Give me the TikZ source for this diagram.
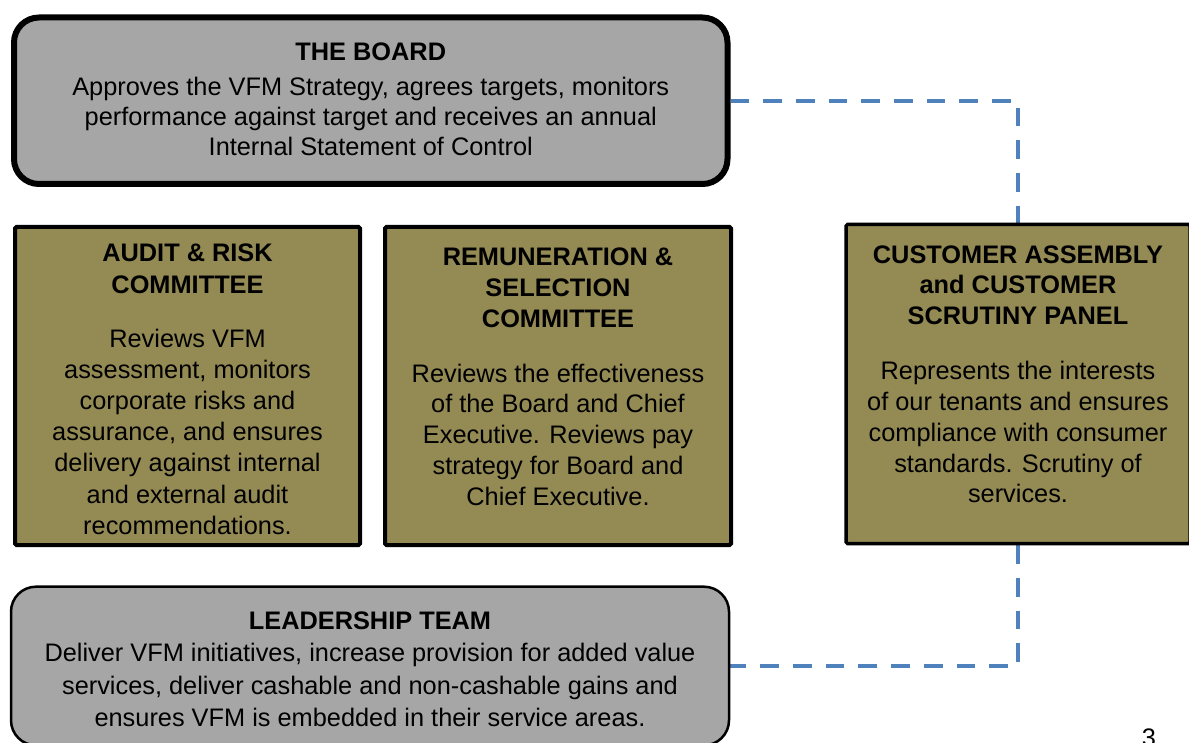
\documentclass[tikz,border=0pt]{standalone}
\usepackage{fontspec}
\setmainfont{Liberation Sans}
\usetikzlibrary{backgrounds}
\definecolor{panelgray}{RGB}{166,166,166}
\definecolor{olivefill}{RGB}{148,138,84}
\definecolor{linkblue}{RGB}{79,129,189}

\begin{document}
\begin{tikzpicture}[x=1pt,y=-1pt,
  panel/.style={draw=black, fill=panelgray, rounded corners=25pt, inner sep=0pt},
  committee/.style={draw=black, fill=olivefill, rounded corners=1.5pt, inner sep=0pt},
  label/.style={anchor=north, align=center, inner sep=0pt},
  link/.style={draw=linkblue, line width=4pt, dash pattern=on 18.7pt off 14pt}]
\useasboundingbox (0,0) rectangle (1189,743);
\clip (0,0) rectangle (1189,743);

% boxes
\node[panel, line width=6pt, minimum width=713.5pt, minimum height=166.5pt] (board) at (370.75,100.75) {};
\node[committee, line width=4pt, minimum width=345pt, minimum height=318pt] (audit) at (187.5,386) {};
\node[committee, line width=4pt, minimum width=346pt, minimum height=318pt] (remun) at (558,386) {};
\node[committee, line width=3.5pt, minimum width=344pt, minimum height=319pt] (customer) at (1018,384) {};
\node[panel, line width=2.5pt, minimum width=718pt, minimum height=158.6pt] (leaders) at (370,666) {};

% dashed links, kept behind the boxes
\begin{scope}[on background layer]
  \draw[link] (board.east) -| (customer.north);
  \draw[link] (customer.south) |- (leaders.east);
\end{scope}

% box texts
\node[label, font=\fontsize{25.35}{30}\selectfont] (boardtxt) at ([yshift=-28pt]board.north)
  {\textbf{THE BOARD}\\[5.6pt]
   Approves the VFM Strategy, agrees targets, monitors\\
   performance against target and receives an annual\\
   Internal Statement of Control};

\node[label, font=\fontsize{25.35}{31.2}\selectfont] (audittxt) at ([yshift=-19pt]audit.north)
  {\textbf{AUDIT \& RISK}\\
   \textbf{COMMITTEE}\\[22.8pt]
   Reviews VFM\\
   assessment, monitors\\
   corporate risks and\\
   assurance, and ensures\\
   delivery against internal\\
   and external audit\\
   recommendations.};

\node[label, font=\fontsize{25.35}{30.8}\selectfont] (remuntxt) at ([yshift=-22.5pt]remun.north)
  {\textbf{REMUNERATION \&}\\
   \textbf{SELECTION}\\
   \textbf{COMMITTEE}\\[24.2pt]
   Reviews the effectiveness\\
   of the Board and Chief\\
   Executive. Reviews pay\\
   strategy for Board and\\
   Chief Executive.};

\node[label, font=\fontsize{25.35}{30.8}\selectfont] (customertxt) at ([yshift=-22.5pt]customer.north)
  {\textbf{CUSTOMER ASSEMBLY}\\
   \textbf{and CUSTOMER}\\
   \textbf{SCRUTINY PANEL}\\[24.2pt]
   Represents the interests\\
   of our tenants and ensures\\
   compliance with consumer\\
   standards. Scrutiny of\\
   services.};

\node[label, font=\fontsize{25.35}{32.5}\selectfont] (leaderstxt) at ([yshift=-26.3pt]leaders.north)
  {\textbf{LEADERSHIP TEAM}\\[-0.5pt]
   Deliver VFM initiatives, increase provision for added value\\
   services, deliver cashable and non-cashable gains and\\
   ensures VFM is embedded in their service areas.};

% page number
\node[label, font=\fontsize{25.35}{30}\selectfont] (pagenum) at (1149,729) {3};
\end{tikzpicture}
\end{document}
